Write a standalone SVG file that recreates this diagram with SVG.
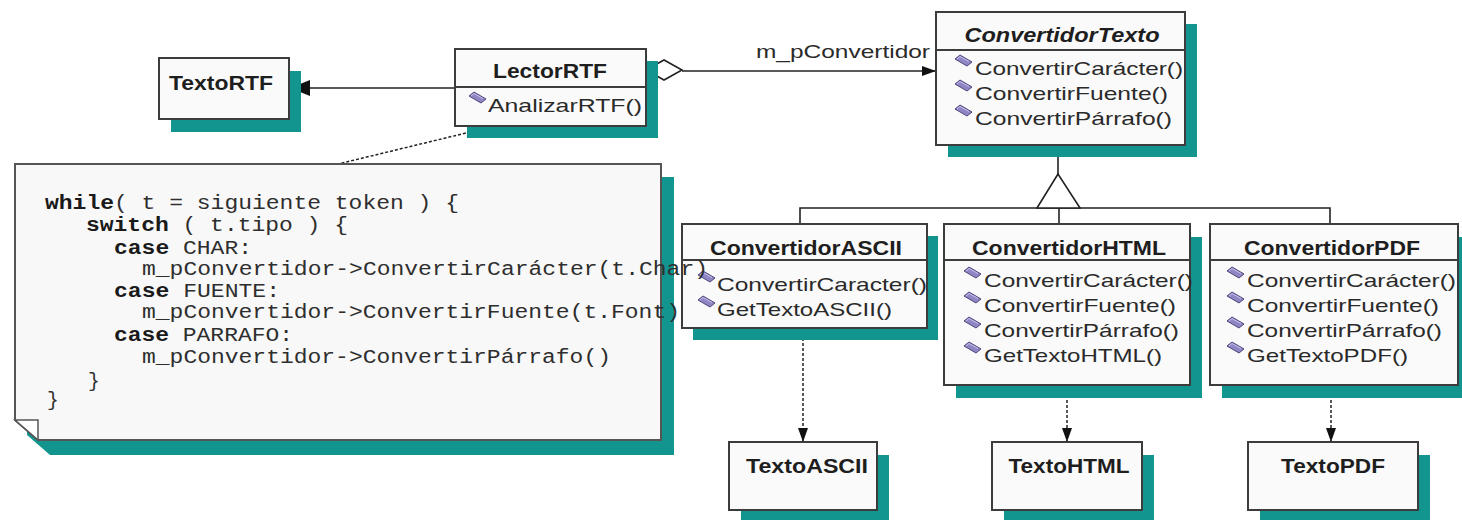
<svg xmlns="http://www.w3.org/2000/svg" width="1462" height="520" viewBox="0 0 1462 520">
  <style>
    .shadow { fill: #13958f; }
    .box { fill: #fafafa; stroke: #3c3c3c; stroke-width: 2; }
    .sep { stroke: #3c3c3c; stroke-width: 2; fill: none; }
    .title { font-family: "Liberation Sans", Arial, sans-serif; font-size: 21px; font-weight: bold; fill: #1e1e1e; text-anchor: middle; }
    .abstract { font-style: italic; }
    .op { font-family: "Liberation Sans", Arial, sans-serif; font-size: 19px; fill: #2a2a2a; }
    .role { font-family: "Liberation Sans", Arial, sans-serif; font-size: 19px; fill: #2a2a2a; }
    .code { font-family: "Liberation Mono", "Courier New", monospace; font-size: 19.5px; fill: #2e2e2e; }
    .kw { font-weight: bold; fill: #1a1a1a; }
    .line { stroke: #222; stroke-width: 1.6; fill: none; }
    .dash { stroke: #222; stroke-width: 1.5; fill: none; stroke-dasharray: 3 2; }
    .hollow { fill: #ffffff; stroke: #222; stroke-width: 1.6; }
    .note { fill: #f8f8f8; stroke: #555; stroke-width: 2; }
    .opicon { fill: #8f86c4; stroke: #4d467c; stroke-width: 1; }
  </style>
  <defs>
    <g id="opIcon">
      <polygon class="opicon" points="0,4 5,0 17,7 12,11"/>
      <polyline points="2,4 5,1.5 14,6.5" fill="none" stroke="#c9c2ec" stroke-width="1"/>
    </g>
    <marker id="headBig" markerUnits="userSpaceOnUse" markerWidth="20" markerHeight="16" refX="20" refY="8" orient="auto">
      <path d="M0,0 L20,8 L0,16 z" fill="#111"/>
    </marker>
    <marker id="headSmall" markerUnits="userSpaceOnUse" markerWidth="14" markerHeight="10" refX="14" refY="5" orient="auto">
      <path d="M0,0 L14,5 L0,10 z" fill="#111"/>
    </marker>
  </defs>

  <rect width="1462" height="520" fill="#ffffff"/>

  <!-- connectors -->
  <g id="connectors">
    <!-- LectorRTF navigates to TextoRTF -->
    <line class="line" x1="455" y1="88" x2="290" y2="88" marker-end="url(#headBig)"/>
    <!-- aggregation LectorRTF -> ConvertidorTexto -->
    <line class="line" x1="682" y1="71" x2="936" y2="71" marker-end="url(#headSmall)"/>
    <polygon class="hollow" points="646,70 664,60 682,70 664,80"/>
    <text class="role" x="756" y="58" textLength="174" lengthAdjust="spacingAndGlyphs">m_pConvertidor</text>
    <!-- note anchor -->
    <line class="dash" x1="495" y1="126" x2="338" y2="164"/>
    <!-- generalization tree -->
    <line class="line" x1="1058" y1="145" x2="1058" y2="174"/>
    <polyline class="line" points="800,224 800,208 1330,208 1330,224"/>
    <line class="line" x1="1059" y1="208" x2="1059" y2="224"/>
    <polygon class="hollow" points="1058,174 1037,208 1080,208"/>
    <!-- products -->
    <line class="dash" x1="803" y1="328" x2="803" y2="442" marker-end="url(#headSmall)"/>
    <line class="dash" x1="1067" y1="385" x2="1067" y2="442" marker-end="url(#headSmall)"/>
    <line class="dash" x1="1331" y1="385" x2="1331" y2="442" marker-end="url(#headSmall)"/>
  </g>

  <!-- TextoRTF -->
  <g id="TextoRTF">
    <rect class="shadow" x="171" y="71" width="130" height="61"/>
    <rect class="box" x="159" y="58" width="130" height="61"/>
    <text class="title" x="221" y="90" textLength="104" lengthAdjust="spacingAndGlyphs">TextoRTF</text>
  </g>

  <!-- LectorRTF -->
  <g id="LectorRTF">
    <rect class="shadow" x="467" y="61" width="191" height="77"/>
    <rect class="box" x="455" y="49" width="191" height="77"/>
    <line class="sep" x1="455" y1="87" x2="646" y2="87"/>
    <text class="title" x="550" y="78" textLength="114" lengthAdjust="spacingAndGlyphs">LectorRTF</text>
    <use href="#opIcon" x="469" y="92"/>
    <text class="op" x="488" y="112" textLength="154" lengthAdjust="spacingAndGlyphs">AnalizarRTF()</text>
  </g>

  <!-- ConvertidorTexto -->
  <g id="ConvertidorTexto">
    <rect class="shadow" x="948" y="24" width="249" height="133"/>
    <rect class="box" x="936" y="12" width="249" height="133"/>
    <line class="sep" x1="936" y1="50" x2="1185" y2="50"/>
    <text class="title abstract" x="1062" y="42" textLength="195" lengthAdjust="spacingAndGlyphs">ConvertidorTexto</text>
    <use href="#opIcon" x="955" y="55"/>
    <text class="op" x="975" y="75" textLength="208" lengthAdjust="spacingAndGlyphs">ConvertirCarácter()</text>
    <use href="#opIcon" x="955" y="80"/>
    <text class="op" x="975" y="100" textLength="193" lengthAdjust="spacingAndGlyphs">ConvertirFuente()</text>
    <use href="#opIcon" x="955" y="105"/>
    <text class="op" x="975" y="125" textLength="197" lengthAdjust="spacingAndGlyphs">ConvertirPárrafo()</text>
  </g>

  <!-- ConvertidorASCII -->
  <g id="ConvertidorASCII">
    <rect class="shadow" x="693" y="236" width="245" height="104"/>
    <rect class="box" x="682" y="224" width="245" height="104"/>
    <line class="sep" x1="682" y1="260" x2="927" y2="260"/>
    <text class="title" x="806" y="255" textLength="192" lengthAdjust="spacingAndGlyphs">ConvertidorASCII</text>
    <use href="#opIcon" x="698" y="271"/>
    <text class="op" x="717" y="291" textLength="210" lengthAdjust="spacingAndGlyphs">ConvertirCaracter()</text>
    <use href="#opIcon" x="698" y="296"/>
    <text class="op" x="717" y="316" textLength="175" lengthAdjust="spacingAndGlyphs">GetTextoASCII()</text>
  </g>

  <!-- ConvertidorHTML -->
  <g id="ConvertidorHTML">
    <rect class="shadow" x="956" y="237" width="246" height="161"/>
    <rect class="box" x="944" y="224" width="246" height="161"/>
    <line class="sep" x1="944" y1="260" x2="1190" y2="260"/>
    <text class="title" x="1069" y="255" textLength="194" lengthAdjust="spacingAndGlyphs">ConvertidorHTML</text>
    <use href="#opIcon" x="964" y="267"/>
    <text class="op" x="984" y="287" textLength="209" lengthAdjust="spacingAndGlyphs">ConvertirCarácter()</text>
    <use href="#opIcon" x="964" y="292"/>
    <text class="op" x="984" y="312" textLength="192" lengthAdjust="spacingAndGlyphs">ConvertirFuente()</text>
    <use href="#opIcon" x="964" y="317"/>
    <text class="op" x="984" y="337" textLength="195" lengthAdjust="spacingAndGlyphs">ConvertirPárrafo()</text>
    <use href="#opIcon" x="964" y="342"/>
    <text class="op" x="984" y="362" textLength="178" lengthAdjust="spacingAndGlyphs">GetTextoHTML()</text>
  </g>

  <!-- ConvertidorPDF -->
  <g id="ConvertidorPDF">
    <rect class="shadow" x="1222" y="237" width="248" height="161"/>
    <rect class="box" x="1210" y="224" width="248" height="161"/>
    <line class="sep" x1="1210" y1="260" x2="1458" y2="260"/>
    <text class="title" x="1332" y="255" textLength="176" lengthAdjust="spacingAndGlyphs">ConvertidorPDF</text>
    <use href="#opIcon" x="1227" y="267"/>
    <text class="op" x="1247" y="287" textLength="209" lengthAdjust="spacingAndGlyphs">ConvertirCarácter()</text>
    <use href="#opIcon" x="1227" y="292"/>
    <text class="op" x="1247" y="312" textLength="192" lengthAdjust="spacingAndGlyphs">ConvertirFuente()</text>
    <use href="#opIcon" x="1227" y="317"/>
    <text class="op" x="1247" y="337" textLength="195" lengthAdjust="spacingAndGlyphs">ConvertirPárrafo()</text>
    <use href="#opIcon" x="1227" y="342"/>
    <text class="op" x="1247" y="362" textLength="161" lengthAdjust="spacingAndGlyphs">GetTextoPDF()</text>
  </g>

  <!-- product classes -->
  <g id="TextoASCII">
    <rect class="shadow" x="741" y="455" width="148" height="68"/>
    <rect class="box" x="729" y="442" width="148" height="68"/>
    <text class="title" x="807" y="473" textLength="122" lengthAdjust="spacingAndGlyphs">TextoASCII</text>
  </g>
  <g id="TextoHTML">
    <rect class="shadow" x="1004" y="455" width="150" height="68"/>
    <rect class="box" x="992" y="442" width="150" height="68"/>
    <text class="title" x="1069" y="473" textLength="121" lengthAdjust="spacingAndGlyphs">TextoHTML</text>
  </g>
  <g id="TextoPDF">
    <rect class="shadow" x="1260" y="455" width="170" height="68"/>
    <rect class="box" x="1248" y="442" width="170" height="68"/>
    <text class="title" x="1333" y="473" textLength="104" lengthAdjust="spacingAndGlyphs">TextoPDF</text>
  </g>

  <!-- note with the parsing loop; each line stretched to the 13.8px code grid -->
  <g id="NotaAnalizar">
    <polygon class="shadow" points="27,177 674,177 674,455 50,455 27,435"/>
    <polygon class="note" points="15,164 661,164 661,440 38,440 15,420"/>
    <polygon points="15,420 38,420 38,440" fill="#ffffff" stroke="#555" stroke-width="1.5"/>
    <text class="code" x="45" y="209" textLength="414" lengthAdjust="spacingAndGlyphs"><tspan class="kw">while</tspan>( t = siguiente token ) {</text>
    <text class="code" x="86" y="231" textLength="262" lengthAdjust="spacingAndGlyphs"><tspan class="kw">switch</tspan> ( t.tipo ) {</text>
    <text class="code" x="114" y="254" textLength="138" lengthAdjust="spacingAndGlyphs"><tspan class="kw">case</tspan> CHAR:</text>
    <text class="code" x="142" y="275" textLength="566" lengthAdjust="spacingAndGlyphs">m_pConvertidor-&gt;ConvertirCarácter(t.Char)</text>
    <text class="code" x="114" y="297" textLength="166" lengthAdjust="spacingAndGlyphs"><tspan class="kw">case</tspan> FUENTE:</text>
    <text class="code" x="142" y="318" textLength="538" lengthAdjust="spacingAndGlyphs">m_pConvertidor-&gt;ConvertirFuente(t.Font)</text>
    <text class="code" x="114" y="341" textLength="179" lengthAdjust="spacingAndGlyphs"><tspan class="kw">case</tspan> PARRAFO:</text>
    <text class="code" x="142" y="363" textLength="469" lengthAdjust="spacingAndGlyphs">m_pConvertidor-&gt;ConvertirPárrafo()</text>
    <text class="code" x="88" y="387">}</text>
    <text class="code" x="47" y="406">}</text>
  </g>
</svg>
